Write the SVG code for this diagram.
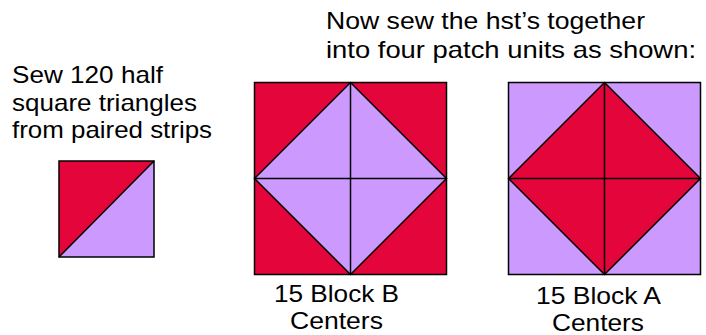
<svg xmlns="http://www.w3.org/2000/svg" width="706" height="335" viewBox="0 0 706 335">
<style>
.t{font-family:"Liberation Sans",Arial,sans-serif;font-size:24px;fill:#000}
.r{fill:#E4053A}
.p{fill:#CC99FF}
.ln{stroke:#000;stroke-width:1.5;fill:none}
</style>
<rect width="706" height="335" fill="#fff"/>
<g id="text-left">
<text class="t" x="12" y="83" textLength="151" lengthAdjust="spacingAndGlyphs">Sew 120 half</text>
<text class="t" x="12" y="110.5" textLength="185" lengthAdjust="spacingAndGlyphs">square triangles</text>
<text class="t" x="12" y="138" textLength="200" lengthAdjust="spacingAndGlyphs">from paired strips</text>
</g>
<g id="text-top">
<text class="t" x="326" y="29" textLength="319" lengthAdjust="spacingAndGlyphs">Now sew the hst’s together</text>
<text class="t" x="326" y="57.5" textLength="370" lengthAdjust="spacingAndGlyphs">into four patch units as shown:</text>
</g>
<g id="hst">
<polygon class="r" points="59,161 154,161 59,257"/>
<polygon class="p" points="154,161 154,257 59,257"/>
<rect class="ln" x="59" y="161" width="95" height="96"/>
<line class="ln" x1="59" y1="257" x2="154" y2="161"/>
</g>
<g id="block-b">
<rect class="r" x="254.5" y="82.5" width="192" height="192"/>
<polygon class="p" points="350.5,82.5 446.5,178.5 350.5,274.5 254.5,178.5"/>
<rect class="ln" x="254.5" y="82.5" width="192" height="192"/>
<polygon class="ln" points="350.5,82.5 446.5,178.5 350.5,274.5 254.5,178.5"/>
<line class="ln" x1="350.5" y1="82.5" x2="350.5" y2="274.5"/>
<line class="ln" x1="254.5" y1="178.5" x2="446.5" y2="178.5"/>
<text class="t" x="274" y="302" textLength="125" lengthAdjust="spacingAndGlyphs">15 Block B</text>
<text class="t" x="290" y="329" textLength="93" lengthAdjust="spacingAndGlyphs">Centers</text>
</g>
<g id="block-a">
<rect class="p" x="508.5" y="82.5" width="192" height="192"/>
<polygon class="r" points="604.5,82.5 700.5,178.5 604.5,274.5 508.5,178.5"/>
<rect class="ln" x="508.5" y="82.5" width="192" height="192"/>
<polygon class="ln" points="604.5,82.5 700.5,178.5 604.5,274.5 508.5,178.5"/>
<line class="ln" x1="604.5" y1="82.5" x2="604.5" y2="274.5"/>
<line class="ln" x1="508.5" y1="178.5" x2="700.5" y2="178.5"/>
<text class="t" x="536" y="304" textLength="125" lengthAdjust="spacingAndGlyphs">15 Block A</text>
<text class="t" x="552" y="330.5" textLength="92" lengthAdjust="spacingAndGlyphs">Centers</text>
</g>
<g id="connectors"/>
</svg>
